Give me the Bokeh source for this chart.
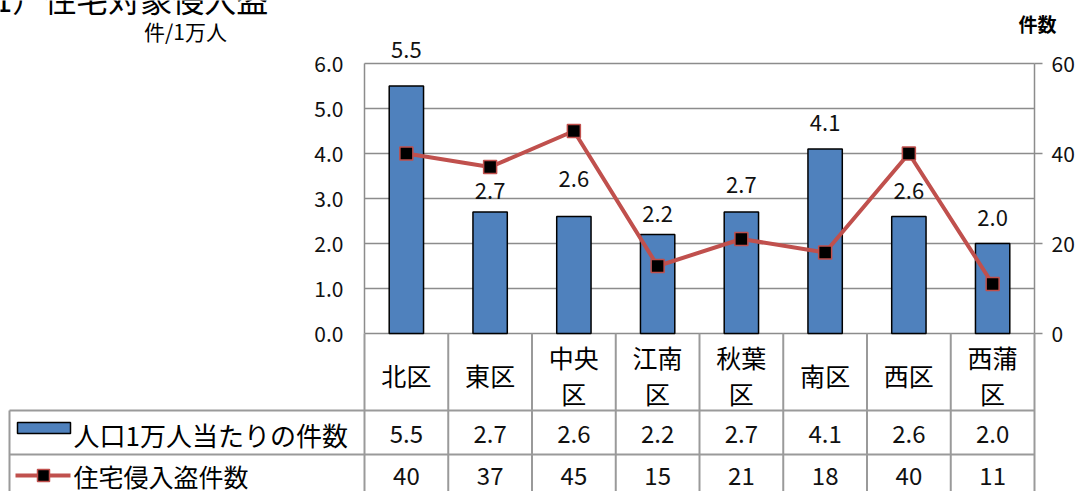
from bokeh.plotting import figure
from bokeh.models import Range1d
from bokeh.core.properties import value
from bokeh.embed import file_html
from bokeh.resources import INLINE

# ---------------- data ----------------
categories = ["北区", "東区", "中央区", "江南区", "秋葉区", "南区", "西区", "西蒲区"]
rate = [5.5, 2.7, 2.6, 2.2, 2.7, 4.1, 2.6, 2.0]          # 人口1万人当たりの件数
count = [40, 37, 45, 15, 21, 18, 40, 11]                  # 住宅侵入盗件数
left_ticks = [0, 1, 2, 3, 4, 5, 6]
right_ticks = [0, 20, 40, 60]
series_names = ["人口1万人当たりの件数", "住宅侵入盗件数"]
title_text = "1）住宅対象侵入盗"
left_unit = "件/1万人"
right_unit = "件数"

# ---------------- styles / layout ----------------
FONT = "Noto Sans CJK JP"
BAR = "#4F81BD"
RED = "#C0504D"
GRID = "#8c8c8c"
TABLE = "#9a9a9a"
TXT = "#111111"
label_dy = [36, 21, 38, 21, 27, 26, 26, 26]   # label offsets above bar tops (px)

W, H = 1084, 491
# chart plot area in canvas pixels: x 364..1034, y 63..333
PX0, PX1, PY0, PY1 = 364, 1034, 63, 333
n = len(categories)
PXX = (PX1 - PX0) / n
PXY = (PY1 - PY0) / (left_ticks[-1] - left_ticks[0])
RATIO = right_ticks[-1] / left_ticks[-1]


def X(xref):
    return (xref - PX0) / PXX


def Y(yref):
    return (PY1 - yref) / PXY


x_lo, x_hi = X(0), X(W)
y_lo, y_hi = Y(H), Y(0)

p = figure(width=W, height=H, x_range=Range1d(x_lo, x_hi),
           y_range=Range1d(y_lo, y_hi), output_backend="svg",
           toolbar_location=None, x_axis_location=None, y_axis_location=None,
           min_border=0, outline_line_color=None,
           background_fill_color="white", border_fill_color="white")
p.extra_y_ranges = {"right": Range1d(y_lo * RATIO, y_hi * RATIO)}
for g in list(p.xgrid) + list(p.ygrid):
    g.visible = False

xs = [i + 0.5 for i in range(n)]

# ---- gridlines and axes ----
p.segment(x0=[0] * len(left_ticks), y0=left_ticks, x1=[n] * len(left_ticks),
          y1=left_ticks, line_color=GRID, line_width=1.5)
p.segment(x0=[0], y0=[left_ticks[0]], x1=[0], y1=[left_ticks[-1]],
          line_color=GRID, line_width=1.5)
p.segment(x0=[n], y0=[right_ticks[0]], x1=[n], y1=[right_ticks[-1]],
          y_range_name="right", line_color=GRID, line_width=1.5)
p.segment(x0=[n] * len(right_ticks), y0=right_ticks,
          x1=[X(1042)] * len(right_ticks), y1=right_ticks,
          y_range_name="right", line_color=GRID, line_width=1.5)
p.text(x=[0] * len(left_ticks), y=left_ticks,
       text=[f"{t:.1f}" for t in left_ticks], x_offset=-21,
       text_font=value(FONT), text_font_size=value("21px"),
       text_align="right", text_baseline="middle", text_color=TXT)
p.text(x=[n] * len(right_ticks), y=right_ticks,
       text=[str(t) for t in right_ticks], x_offset=17, y_range_name="right",
       text_font=value(FONT), text_font_size=value("21px"),
       text_align="left", text_baseline="middle", text_color=TXT)

# ---- series ----
p.vbar(x=xs, top=rate, bottom=0, width=0.41,
       fill_color=BAR, line_color="black", line_width=1.5)
p.line(x=xs, y=count, y_range_name="right", line_color=RED, line_width=4)
p.scatter(x=xs, y=count, y_range_name="right", marker="square", size=13,
          fill_color="black", line_color=RED, line_width=1.5)
p.text(x=xs, y=[r + d / PXY for r, d in zip(rate, label_dy)],
       text=[f"{r:.1f}" for r in rate], text_font=value(FONT),
       text_font_size=value("22px"), text_align="center",
       text_baseline="middle", text_color=TXT)

# ---- titles ----
p.text(x=[X(185)], y=[Y(30)], text=[left_unit], text_font=value(FONT),
       text_font_size=value("21px"), text_align="center",
       text_baseline="middle", text_color="black")
p.text(x=[X(1037)], y=[Y(23)], text=[right_unit], text_font=value(FONT),
       text_font_size=value("19px"), text_font_style="bold",
       text_align="center", text_baseline="middle", text_color="black")
p.text(x=[X(-6)], y=[Y(-3)], text=[title_text], text_font=value(FONT),
       text_font_size=value("32px"), text_align="left",
       text_baseline="middle", text_color="black")

# ---- data table ----
bottom = Y(H)
xb = [float(i) for i in range(n + 1)]
p.segment(x0=xb, y0=[0] * (n + 1), x1=xb, y1=[bottom] * (n + 1),
          line_color=TABLE, line_width=2)
p.segment(x0=[X(9), X(9), X(9)], y0=[Y(410), Y(454), Y(410)],
          x1=[n, n, X(9)], y1=[Y(410), Y(454), bottom],
          line_color=TABLE, line_width=2)

wrapped = [c if len(c) <= 2 else c[:2] + "\n" + c[2:] for c in categories]
p.text(x=xs, y=[Y(374)] * n, text=wrapped, text_font=value(FONT),
       text_font_size=value("25px"), text_align="center",
       text_baseline="middle", text_line_height=1.0, text_color="black")
p.text(x=xs, y=[Y(433)] * n, text=[f"{r:.1f}" for r in rate],
       text_font=value(FONT), text_font_size=value("24px"),
       text_align="center", text_baseline="middle", text_color=TXT)
p.text(x=xs, y=[Y(475)] * n, text=[str(c) for c in count],
       text_font=value(FONT), text_font_size=value("24px"),
       text_align="center", text_baseline="middle", text_color=TXT)

# legend keys in the table
p.quad(left=X(17), right=X(70), top=Y(422), bottom=Y(433),
       fill_color=BAR, line_color="black", line_width=1.5)
p.text(x=[X(73)], y=[Y(434)], text=[series_names[0]], text_font=value(FONT),
       text_font_size=value("26px"), text_align="left",
       text_baseline="middle", text_color="black")
p.line(x=[X(15), X(70)], y=[Y(475), Y(475)], line_color=RED, line_width=4)
p.scatter(x=[X(43)], y=[Y(475)], marker="square", size=12,
          fill_color="black", line_color=RED, line_width=1.5)
p.text(x=[X(73)], y=[Y(475)], text=[series_names[1]], text_font=value(FONT),
       text_font_size=value("25px"), text_align="left",
       text_baseline="middle", text_color="black")

open("out.html", "w").write(file_html(p, INLINE))
